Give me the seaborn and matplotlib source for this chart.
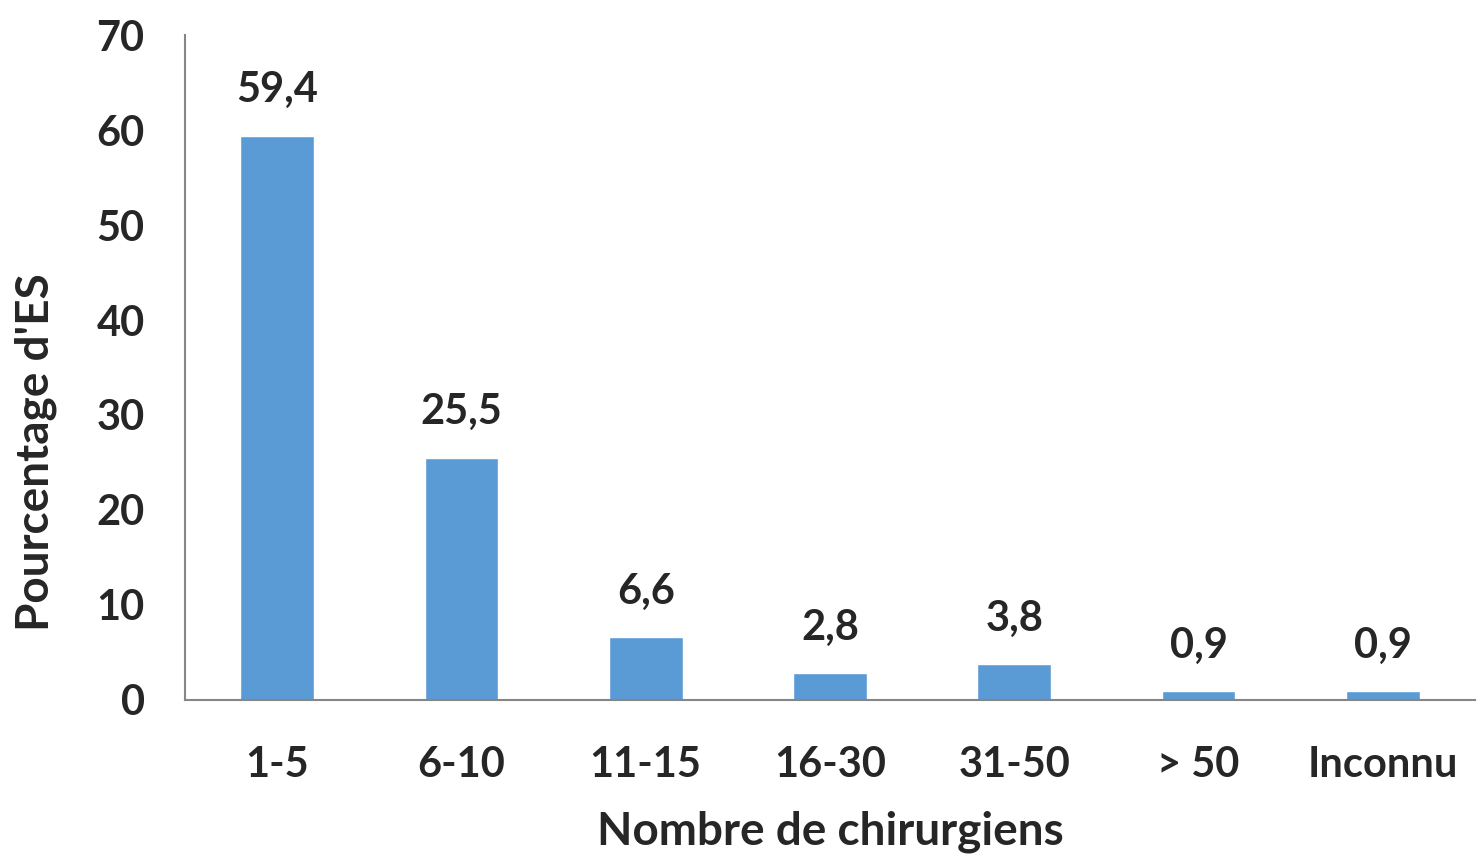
import matplotlib
matplotlib.use("Agg")
import matplotlib.pyplot as plt
import seaborn as sns
import pandas as pd

categories = ["1-5", "6-10", "11-15", "16-30", "31-50", "> 50", "Inconnu"]
percentages = [59.4, 25.5, 6.6, 2.8, 3.8, 0.9, 0.9]
y_ticks = [0, 10, 20, 30, 40, 50, 60, 70]

df = pd.DataFrame({"cat": categories, "pct": percentages})

sns.set_style("white")
plt.rcParams["font.family"] = ["Lato", "DejaVu Sans"]
plt.rcParams["font.weight"] = "bold"

fig = plt.figure(figsize=(14.8, 8.65), dpi=100)
ax = fig.add_axes([0.125, 0.1908, 0.8716, 0.7687])

sns.barplot(data=df, x="cat", y="pct", color="#5B9BD5", saturation=1, width=0.4, ax=ax)

labels = [f"{v:.1f}".replace(".", ",") for v in percentages]
ax.bar_label(ax.containers[0], labels=labels, padding=19, fontsize=30, fontweight="bold")

ax.set_ylim(0, 70)
ax.set_xlim(-0.5, len(categories) - 0.5)
ax.set_yticks(y_ticks)
ax.set_yticklabels([str(t) for t in y_ticks], fontsize=30, fontweight="bold")

# x ticks sit between the categories, labels at the centers
ax.set_xticks([i - 0.5 for i in range(len(categories) + 1)])
ax.set_xticklabels([])
ax.set_xticks(range(len(categories)), minor=True)
ax.set_xticklabels(categories, minor=True, fontsize=30, fontweight="bold")
ax.tick_params(axis="x", which="minor", length=0, pad=33)
ax.tick_params(axis="x", which="major", length=11, width=1.5, color="#868686", direction="out")
ax.tick_params(axis="y", length=11, width=1.5, color="#868686", direction="out", pad=18)

for side in ["top", "right"]:
    ax.spines[side].set_visible(False)
for side in ["left", "bottom"]:
    ax.spines[side].set_color("#868686")
    ax.spines[side].set_linewidth(1.5)

ax.set_xlabel("Nombre de chirurgiens", fontsize=33, fontweight="bold", labelpad=19)
ax.set_ylabel("Pourcentage d'ES", fontsize=33, fontweight="bold")
ax.yaxis.set_label_coords(-0.099, 0.373)

fig.savefig("out.png", dpi=100)
